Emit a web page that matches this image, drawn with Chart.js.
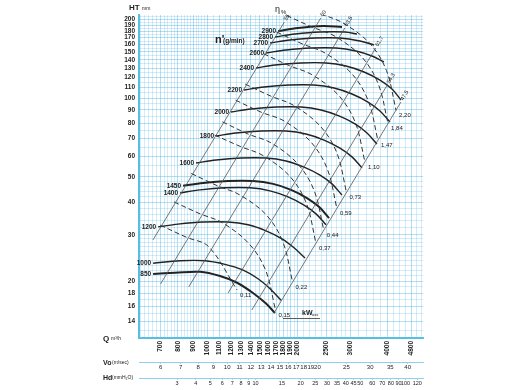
<!DOCTYPE html>
<html><head><meta charset="utf-8">
<script src="https://cdn.jsdelivr.net/npm/chart.js@4.4.1/dist/chart.umd.min.js"></script>
<style>html,body{margin:0;padding:0;background:#fff;}canvas{display:block;}</style>
</head><body>
<canvas id="c" width="530" height="390"></canvas>
<script>
// ---------- tick labels ----------
const qLabels  = [700,800,900,1000,1100,1200,1300,1400,1500,1600,1700,1800,1900,2000,2500,3000,3500,4000,4800];
const voLabels = [6,7,8,9,10,11,12,13,14,15,16,17,18,19,20,25,30,35,40];
const hdLabels = [3,4,5,6,7,8,9,10,15,20,25,30,35,40,45,50,60,70,80,90,100,120];
const htLabels = [14,16,18,20,30,40,50,60,70,80,90,100,110,120,130,140,150,160,170,180,190,200];

// ---------- fan curves per speed n' (g/min): [Q m3/h, HT mm] ----------
const rpm850  = [[661,21.3],[782,21.5],[948,21.7],[1105,20.9],[1259,19.7],[1423,18.0],[1573,16.4],[1685,15.1]];
const rpm1000 = [[661,23.4],[813,23.9],[985,23.9],[1139,23.2],[1308,22.1],[1479,20.4],[1622,18.7],[1765,16.9]];
const rpm1200 = [[687,32.2],[800,33.0],[970,33.6],[1175,33.6],[1370,32.8],[1573,31.1],[1778,29.0],[1950,26.8],[2122,24.5]];
const rpm1400 = [[813,43.4],[948,44.6],[1148,45.4],[1391,45.4],[1622,44.2],[1862,41.9],[2106,39.0],[2309,36.1],[2493,32.8]];
const rpm1450 = [[832,46.2],[970,47.4],[1175,48.2],[1423,48.2],[1660,47.0],[1906,44.6],[2154,41.5],[2362,38.4],[2551,34.8]];
const rpm1600 = [[919,56.5],[1072,58.0],[1298,59.0],[1573,59.0],[1834,57.5],[2106,54.5],[2381,50.8],[2610,47.0],[2818,42.6]];
const rpm1800 = [[1072,71.6],[1249,73.5],[1514,74.8],[1834,74.8],[2138,72.9],[2455,69.1],[2775,64.4],[3043,59.6],[3286,54.1]];
const rpm2000 = [[1202,88.4],[1402,90.8],[1698,92.4],[2058,92.4],[2399,90.0],[2754,85.4],[3114,79.6],[3415,73.5],[3687,66.7]];
const rpm2200 = [[1328,107.3],[1549,110.2],[1877,112.1],[2273,112.1],[2651,109.2],[3043,103.6],[3441,96.5],[3773,89.2],[4074,81.0]];
const rpm2400 = [[1457,130.2],[1686,133.7],[2058,136.1],[2493,136.1],[2906,132.5],[3337,125.7],[3773,117.1],[4137,108.2],[4433,98.3]];
const rpm2600 = [[1573,148.6],[1834,152.5],[2222,155.2],[2692,155.2],[3138,151.2],[3548,144.7],[3891,137.3]];
const rpm2700 = [[1622,162.2],[1891,166.5],[2291,169.5],[2775,169.5],[3236,165.1],[3603,159.4]];
const rpm2800 = [[1685,171.0],[1965,175.5],[2381,178.6],[2884,178.6],[3162,175.5]];
const rpm2900 = [[1725,180.2],[2011,185.0],[2436,188.3],[2818,186.7]];
const rpmNames = ['850','1000','1200','1400','1450','1600','1800','2000','2200','2400','2600','2700','2800','2900'];
const rpmSeries = [rpm850,rpm1000,rpm1200,rpm1400,rpm1450,rpm1600,rpm1800,rpm2000,rpm2200,rpm2400,rpm2600,rpm2700,rpm2800,rpm2900];
const rpmBold = ['850','1450','2900'];

// ---------- iso-efficiency lines, eta % ----------
const eta55  = [[660,28.7],[1810,195]];
const eta60  = [[700,19.5],[2395,202]];
const eta635 = [[869,19.0],[2879,185]];
const eta617 = [[1175,18.0],[3650,155.2]];
const eta543 = [[1410,15.5],[3990,112.1]];
const eta475 = [[1672,15.1],[4430,96.5]];
const etaNames = ['55','60','63,5','61,7','54,3','47,5'];
const etaSeries = [eta55,eta60,eta635,eta617,eta543,eta475];

// ---------- iso-power lines, kW ass ----------
const kw011 = [[698,32.7],[853,29.4],[1011,27.1],[1259,18.5]];
const kw015 = [[776,40.1],[949,36.1],[1125,33.4],[1383,27.7],[1570,21.9],[1691,15.5]];
const kw022 = [[886,51.5],[1084,46.2],[1284,42.7],[1579,35.7],[1792,28.1],[1929,19.8]];
const kw037 = [[1060,72.2],[1296,65.2],[1537,60.3],[1889,50.2],[2144,39.6],[2308,27.9]];
const kw044 = [[1125,81.1],[1376,72.7],[1631,67.5],[2005,56.1],[2276,44.3],[2451,31.3]];
const kw059 = [[1245,98.1],[1522,88.1],[1805,81.8],[2218,68.0],[2519,53.5],[2711,37.8]];
const kw073 = [[1340,113.0],[1638,101.5],[1942,93.8],[2387,78.0],[2710,61.7],[2918,43.6]];
const kw110 = [[1543,147.6],[1887,132.7],[2237,122.8],[2749,102.2],[3122,80.6],[3361,57.0]];
const kw147 = [[1705,178.7],[2085,160.7],[2472,148.6],[3040,123.8],[3450,97.4],[3715,68.8]];
const kw184 = [[1842,206.6],[2253,186.1],[2671,172.1],[3284,143.3],[3727,112.8],[4014,80.0]];
const kw220 = [[2396,209.5],[2841,193.4],[3492,161.4],[3965,127.3],[4269,89.7]];
const kwNames = ['0,11','0,15','0,22','0,37','0,44','0,59','0,73','1,10','1,47','1,84','2,20'];
const kwSeries = [kw011,kw015,kw022,kw037,kw044,kw059,kw073,kw110,kw147,kw184,kw220];

// ---------- axis ranges ----------
const Q_MIN = 593, Q_MAX = 5250, H_MIN = 12.12, H_MAX = 207.5;
const VO_PER_Q = 1/116.67;   // Vo (m/s) = Q / 116.67
const HD_K = 4.75;           // Hd (mmH2O) = 4.75 * (Q/1000)^2

const FONT = '"Liberation Sans"';
const GRID = 'rgba(100,190,232,0.36)';
const GRID_MAJOR = 'rgba(80,180,230,0.55)';
const AXIS = '#55bfe6';

function gridVals(ranges){
  const out=[];
  for (const [a,b,s] of ranges){
    for (let v=a; v<=b+1e-9; v+=s){ const r=Math.round(v*100)/100; if(!out.includes(r)) out.push(r); }
  }
  return out;
}
const xGrid = gridVals([[600,1000,20],[1000,2000,50],[2000,3000,100],[3000,5200,200]]);
const yGrid = gridVals([[13,30,1],[30,50,2],[50,100,5],[100,205,5]]);

const toPts = a => a.map(([x,y]) => ({x, y}));
const datasets = [];
etaSeries.forEach((s,i)=>datasets.push({kind:'eta', label:etaNames[i], data:toPts(s),
  borderColor:'#555', borderWidth:0.8, pointRadius:0, tension:0}));
kwSeries.forEach((s,i)=>datasets.push({kind:'kw', label:kwNames[i], data:toPts(s),
  borderColor:'#333', borderWidth:1, borderDash:[5,3], pointRadius:0, tension:0.35}));
rpmSeries.forEach((s,i)=>datasets.push({kind:'rpm', label:rpmNames[i], data:toPts(s),
  borderColor:'#222', borderWidth: rpmBold.includes(rpmNames[i]) ? 2 : 1.4, pointRadius:0, tension:0.35}));

function setTicks(vals){ return scale => { scale.ticks = vals.map(v => ({value:v})); }; }

const textPlugin = {
  id:'texts',
  afterDatasetsDraw(chart){
    const c = chart.ctx;
    c.save();
    c.fillStyle = '#222';
    chart.data.datasets.forEach((ds,i)=>{
      const pts = chart.getDatasetMeta(i).data;
      if (ds.kind==='rpm'){
        const p = pts[0];
        c.font = 'bold 6.5px '+FONT; c.textAlign='right'; c.textBaseline='middle';
        c.fillText(ds.label, p.x-2, p.y);
      } else if (ds.kind==='kw'){
        const p = pts[pts.length-1];
        c.font = '6px '+FONT; c.textAlign='left'; c.textBaseline='middle';
        c.fillText(ds.label, p.x+3, p.y+5);
      } else if (ds.kind==='eta'){
        const p0 = pts[0], p = pts[pts.length-1];
        const ang = Math.atan2(p.y-p0.y, p.x-p0.x);
        c.save(); c.translate(p.x+1, p.y-2); c.rotate(ang);
        c.font = '5.5px '+FONT; c.textAlign='left'; c.textBaseline='middle';
        c.fillText(ds.label, 0, 0); c.restore();
      }
    });
    const t = (txt, x, y, font) => { c.font = font; c.textAlign = 'left'; c.textBaseline='middle'; c.fillText(txt, x, y); };
    t('HT', 129, 8, 'bold 8px '+FONT); t('mm', 142, 9, '5px '+FONT);
    t('n\'', 215, 40, 'bold 11px '+FONT); t('(g/min)', 223, 41, 'bold 6.5px '+FONT);
    t('η', 275, 10, '9px '+FONT); t('%', 281, 12, '6px '+FONT);
    t('Q', 103, 339, 'bold 8px '+FONT); t('m³/h', 111, 339, '5px '+FONT);
    t('Vo', 103, 363, 'bold 7px '+FONT); t('(m/sec)', 112, 363, '5px '+FONT);
    t('Hd', 103, 378, 'bold 7px '+FONT); t('(mmH₂O)', 112, 378, '5px '+FONT);
    t('kW', 302, 313, 'bold 7px '+FONT); t('ass', 312, 315, '4px '+FONT);
    c.strokeStyle = '#333'; c.lineWidth = 0.8;
    c.beginPath(); c.moveTo(283, 318.5); c.lineTo(320, 318.5); c.stroke();
    c.restore();
  }
};

new Chart(document.getElementById('c'), {
  type:'line',
  data:{datasets},
  plugins:[textPlugin],
  options:{
    responsive:false, animation:false, events:[], devicePixelRatio:1,
    layout:{padding:{left:0, right:107, top:15, bottom:0}},
    plugins:{legend:{display:false}, tooltip:{enabled:false}},
    scales:{
      x:{
        type:'logarithmic', position:'bottom', min:Q_MIN, max:Q_MAX, weight:0,
        afterBuildTicks:setTicks(xGrid),
        afterFit: s => { s.height = 24; },
        grid:{color: ctx => qLabels.includes(ctx.tick && ctx.tick.value) ? GRID_MAJOR : GRID, lineWidth:0.8, drawTicks:false},
        border:{color:AXIS, width:2},
        ticks:{autoSkip:false, minRotation:90, maxRotation:90, padding:3, color:'#222',
          font:{family:FONT, size:6.5, weight:'bold'},
          callback: v => qLabels.includes(v) ? String(v) : ''}
      },
      vo:{
        type:'logarithmic', position:'bottom', axis:'x', min:Q_MIN*VO_PER_Q, max:Q_MAX*VO_PER_Q, weight:1,
        afterBuildTicks:setTicks(voLabels),
        afterFit: s => { s.height = 16; },
        grid:{display:true, drawOnChartArea:false, drawTicks:true, tickLength:2, color:'#8ccfee', lineWidth:0.8},
        border:{color:'#8ccfee', width:1},
        ticks:{autoSkip:false, maxRotation:0, minRotation:0, padding:0, color:'#222',
          font:{family:FONT, size:6}, callback: v => String(v)}
      },
      hd:{
        type:'logarithmic', position:'bottom', axis:'x', min:HD_K*Math.pow(Q_MIN/1000,2), max:HD_K*Math.pow(Q_MAX/1000,2), weight:2,
        afterBuildTicks:setTicks(hdLabels),
        afterFit: s => { s.height = 12; },
        grid:{display:true, drawOnChartArea:false, drawTicks:true, tickLength:2, color:'#8ccfee', lineWidth:0.8},
        border:{color:'#8ccfee', width:1},
        ticks:{autoSkip:false, maxRotation:0, minRotation:0, padding:0, color:'#222',
          font:{family:FONT, size:5.5}, callback: v => String(v)}
      },
      y:{
        type:'logarithmic', position:'left', min:H_MIN, max:H_MAX,
        afterBuildTicks:setTicks(yGrid),
        afterFit: s => { s.width = 139; },
        grid:{color: ctx => htLabels.includes(ctx.tick && ctx.tick.value) ? GRID_MAJOR : GRID, lineWidth:0.8, drawTicks:false},
        border:{color:AXIS, width:2},
        ticks:{autoSkip:false, padding:4, color:'#222',
          font:{family:FONT, size:6.5, weight:'bold'},
          callback: v => htLabels.includes(v) ? String(v) : ''}
      }
    }
  }
});
</script>
</body></html>
